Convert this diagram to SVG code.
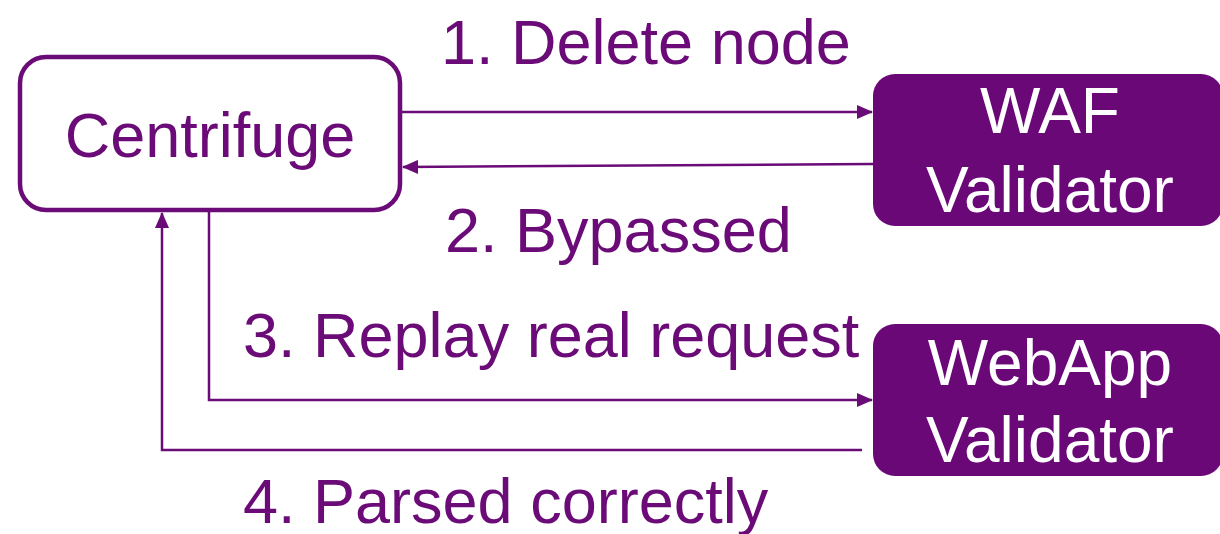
<svg xmlns="http://www.w3.org/2000/svg" width="1220" height="534" viewBox="0 0 1220 534">
<style>
text{font-family:"Liberation Sans",Arial,sans-serif;font-size:63px}
.lbl{fill:#6b0b78}
.wt{fill:#fff;text-anchor:middle;font-size:64px}
.c{stroke:#6b0b78;stroke-width:2.5;fill:none}
</style>
<defs>
<marker id="ah2" markerWidth="16" markerHeight="14" refX="15" refY="7" orient="auto" markerUnits="userSpaceOnUse" viewBox="0 0 16 14">
<path d="M0,0 L16,7 L0,14 z" fill="#6b0b78"/>
</marker>
</defs>
<g id="connectors">
<line class="c" x1="402" y1="112" x2="872" y2="112" marker-end="url(#ah2)"/>
<line class="c" x1="873" y1="164" x2="403" y2="167" marker-end="url(#ah2)"/>
<polyline class="c" points="209,212 209,400 872,400" marker-end="url(#ah2)"/>
<polyline class="c" points="862,450 162,450 162,213" marker-end="url(#ah2)"/>
</g>
<g id="centrifuge">
<rect x="20" y="57" width="380" height="153" rx="26" fill="#fff" stroke="#6b0b78" stroke-width="4.5"/>
<text class="lbl" x="210" y="157" text-anchor="middle">Centrifuge</text>
</g>
<g id="waf">
<rect x="873" y="74" width="350" height="152" rx="22" fill="#6b0878"/>
<text class="wt" x="1050" y="133">WAF</text>
<text class="wt" x="1050" y="212">Validator</text>
</g>
<g id="webapp">
<rect x="873" y="324" width="350" height="152" rx="22" fill="#6b0878"/>
<text class="wt" x="1050" y="385">WebApp</text>
<text class="wt" x="1050" y="462">Validator</text>
</g>
<g id="labels">
<text class="lbl" x="441" y="64">1. Delete node</text>
<text class="lbl" x="445" y="252">2. Bypassed</text>
<text class="lbl" x="243" y="357">3. Replay real request</text>
<text class="lbl" x="243" y="523">4. Parsed correctly</text>
</g>
</svg>
